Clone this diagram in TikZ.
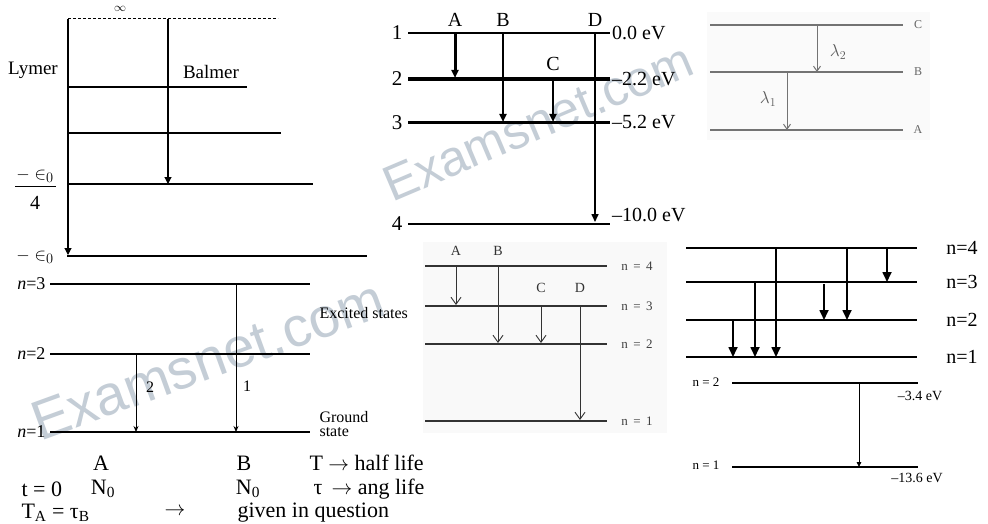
\documentclass[tikz,border=0pt]{standalone}
\usepackage{fontspec}
\setmainfont{Liberation Serif}
\newfontfamily\wmfont{Liberation Sans}
\usetikzlibrary{arrows.meta}
\definecolor{wmcol}{RGB}{196,205,214}
\begin{document}
\begin{tikzpicture}[x=1pt,y=-1pt,
  fz/.style={font=\fontsize{#1}{#1}\selectfont},
  wm/.style={text=wmcol,font=\wmfont\fontsize{#1}{#1}\selectfont},
  lvl/.style={line width=1.1pt},
  tipA/.style={-{Triangle[length=7pt,width=7pt]}},
  tipB/.style={-{Stealth[length=6pt,width=5pt]}},
  tipC/.style={-{Triangle[length=8pt,width=7pt]}},
  tipD/.style={-{Straight Barb[length=5pt,width=7pt]}},
  tipE/.style={-{Straight Barb[length=7pt,width=10pt]}},
  tipF/.style={-{Triangle[length=10pt,width=9pt]}},
  tipG/.style={-{Triangle[length=5pt,width=4.5pt]}}]
\useasboundingbox (0,0) rectangle (988,524);
\fill[white] (0,0) rectangle (988,524);

% background panels
\fill[black!2] (707,12) rectangle (930,140);
\fill[black!2.5] (423,242) rectangle (667,433);

% watermarks
\node[wm=56,rotate=20] (wm1) at (208,360) {Examsnet.com};
\node[wm=50,rotate=23] (wm2) at (538,122) {Examsnet.com};

% ---------------- top-left: series ----------------
\draw[line width=1pt,dash pattern=on 3pt off 2pt] (68,19) -- (278,19);
\node[fz=13,inner sep=1pt] (inf) at (120,9) {$\infty$};
\draw[lvl] (67,87) -- (247,87);
\draw[lvl] (67,133) -- (281,133);
\draw[lvl] (67,184) -- (313,184);
\draw[line width=2pt] (67,256) -- (367,256);
\draw[lvl,tipA] (68,19) -- (68,255);
\draw[lvl,tipA] (168,19) -- (168,184);
\node[fz=19] (lym) at (33,70) {Lymer};
\node[fz=19] (bal) at (211,72) {Balmer};
\node[fz=19] (e4n) at (35,176) {$-\in_0$};
\draw[line width=0.9pt] (15,186) -- (56,186);
\node[fz=20] (e4d) at (35,203) {4};
\node[fz=19] (e1) at (35,257) {$-\in_0$};

% ---------------- bottom-left ----------------
\draw[lvl] (50,284) -- (310,284);
\draw[lvl] (50,354) -- (310,354);
\draw[lvl] (50,432) -- (310,432);
\node[fz=18,anchor=east] (n3) at (49,284) {\textit{n}=3};
\node[fz=18,anchor=east] (n2) at (49,354) {\textit{n}=2};
\node[fz=18,anchor=east] (n1) at (49,432) {\textit{n}=1};
\draw[line width=0.9pt,tipB] (136,354) -- (136,432);
\draw[line width=0.9pt,tipB] (236,284) -- (236,432);
\node[fz=16] (l2) at (150,387) {2};
\node[fz=16] (l1) at (247,386) {1};
\node[fz=16,anchor=west] (exc) at (316,313) {Excited states};
\node[fz=16,anchor=west,align=left] (gnd) at (316,424) {Ground\\[-2pt]state};

\node[fz=22] (tA) at (101,463) {A};
\node[fz=22] (tB) at (244,463) {B};
\node[fz=22,anchor=west] (tT) at (306,463) {T $\rightarrow$ half life};
\node[fz=22,anchor=west] (t0) at (18,489) {t = 0};
\node[fz=22] (N0a) at (103,489) {N\textsubscript{0}};
\node[fz=22] (N0b) at (248,489) {N\textsubscript{0}};
\node[fz=22,anchor=west] (tau) at (310,489) {τ \,$\rightarrow$ ang life};
\node[fz=22,anchor=west] (TA) at (18,513) {T\textsubscript{A} = τ\textsubscript{B}};
\node[fz=22] (arr) at (175,512) {$\rightarrow$};
\node[fz=22,anchor=west] (giv) at (234,513) {given in question};

% ---------------- top-middle ----------------
\draw[line width=2pt] (408,33) -- (610,33);
\draw[line width=4.5pt] (408,79) -- (610,79);
\draw[line width=3pt] (408,123) -- (610,123);
\draw[line width=2pt] (408,224) -- (610,224);
\node[fz=21] (m1) at (397,33) {1};
\node[fz=21] (m2) at (397,79) {2};
\node[fz=21] (m3) at (397,123) {3};
\node[fz=21] (m4) at (397,224) {4};
\draw[line width=3pt,tipC] (455,33) -- (455,78);
\draw[line width=2.3pt,tipC] (503,33) -- (503,122);
\draw[line width=2pt,tipC] (553,79) -- (553,122);
\draw[line width=1.6pt,tipC] (595,33) -- (595,222);
\node[fz=20] (mA) at (455,20) {A};
\node[fz=20] (mB) at (503,20) {B};
\node[fz=20] (mC) at (553,64) {C};
\node[fz=20] (mD) at (595,20) {D};
\node[fz=20,anchor=west,inner sep=1pt] (ev0) at (611,33) {0.0 eV};
\node[fz=20,anchor=west,inner sep=1pt] (ev1) at (611,79) {–2.2 eV};
\node[fz=20,anchor=west,inner sep=1pt] (ev2) at (611,122) {–5.2 eV};
\node[fz=20,anchor=west,inner sep=1pt] (ev3) at (611,215) {–10.0 eV};

% ---------------- top-right ----------------
\begin{scope}[black!55]
\draw[line width=1.2pt] (710,25) -- (903,25);
\draw[line width=1.2pt] (710,72) -- (903,72);
\draw[line width=1.2pt] (710,130) -- (903,130);
\node[fz=12,text=black!60] (rC) at (918,25) {C};
\node[fz=12,text=black!60] (rB) at (918,72) {B};
\node[fz=12,text=black!60] (rA) at (918,130) {A};
\draw[line width=1pt,tipD] (817,25) -- (817,72);
\draw[line width=1pt,tipD] (787,72) -- (787,130);
\node[fz=17,text=black!65] (lam2) at (838,52) {$\lambda_2$};
\node[fz=17,text=black!65] (lam1) at (768,99) {$\lambda_1$};
\end{scope}

% ---------------- middle ----------------
\begin{scope}[black!80]
\draw[line width=1.2pt] (425,266) -- (607,266);
\draw[line width=1.2pt] (425,306) -- (607,306);
\draw[line width=1.2pt] (425,344) -- (607,344);
\draw[line width=1.2pt] (425,421) -- (607,421);
\node[fz=13,text=black!75] (q4) at (637,266) {n\ \,=\ \,4};
\node[fz=13,text=black!75] (q3) at (637,306) {n\ \,=\ \,3};
\node[fz=13,text=black!75] (q2) at (637,344) {n\ \,=\ \,2};
\node[fz=13,text=black!75] (q1) at (637,421) {n\ \,=\ \,1};
\draw[line width=0.9pt,tipE] (456,266) -- (456,305);
\draw[line width=0.9pt,tipE] (498,266) -- (498,343);
\draw[line width=0.9pt,tipE] (541,306) -- (541,343);
\draw[line width=0.9pt,tipE] (580,306) -- (580,420);
\node[fz=14,text=black!80] (qA) at (456,251) {A};
\node[fz=14,text=black!80] (qB) at (498,251) {B};
\node[fz=14,text=black!80] (qC) at (541,288) {C};
\node[fz=14,text=black!80] (qD) at (580,288) {D};
\end{scope}

% ---------------- right-middle ----------------
\draw[lvl] (686,248) -- (917,248);
\draw[lvl] (686,282) -- (917,282);
\draw[lvl] (686,320) -- (917,320);
\draw[lvl] (686,357) -- (917,357);
\node[fz=20] (s4) at (962,248) {n=4};
\node[fz=20] (s3) at (962,282) {n=3};
\node[fz=20] (s2) at (962,320) {n=2};
\node[fz=20] (s1) at (962,357) {n=1};
\draw[line width=1.7pt,tipF] (733,320) -- (733,357);
\draw[line width=1.7pt,tipF] (755,282) -- (755,357);
\draw[line width=1.7pt,tipF] (776,248) -- (776,357);
\draw[line width=1.7pt,tipF] (824,284) -- (824,320);
\draw[line width=1.7pt,tipF] (847,248) -- (847,320);
\draw[line width=1.7pt,tipF] (887,248) -- (887,282);

% ---------------- bottom-right ----------------
\draw[lvl] (732,383) -- (918,383);
\draw[lvl] (732,467) -- (918,467);
\node[fz=13] (u2) at (706,382) {n = 2};
\node[fz=13] (u1) at (706,465) {n = 1};
\node[fz=14] (uev2) at (920,396) {–3.4 eV};
\node[fz=14] (uev1) at (917,478) {–13.6 eV};
\draw[line width=0.9pt,tipG] (859,383) -- (859,467);
\end{tikzpicture}
\end{document}
